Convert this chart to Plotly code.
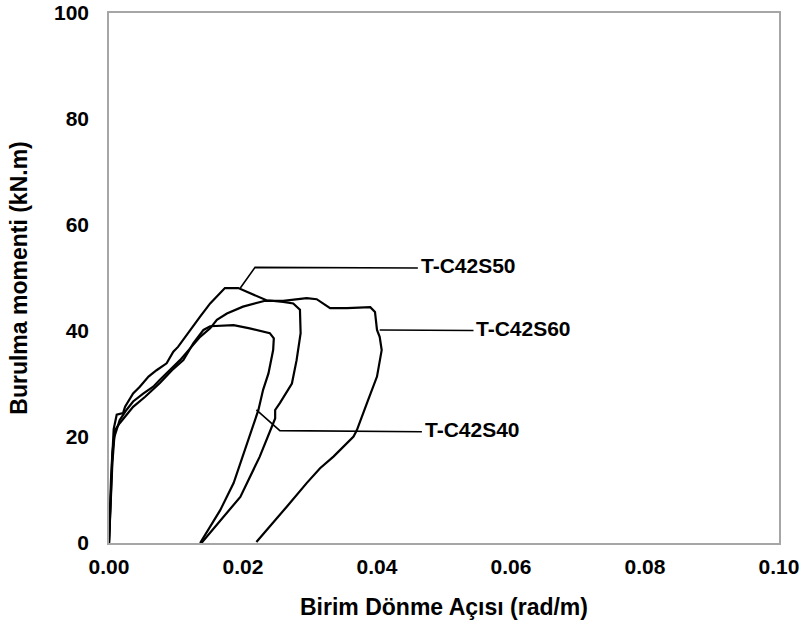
import plotly.graph_objects as go

# T-C42S40
s40_x = [0, 0.0001, 0.0003, 0.0005, 0.0009, 0.0016, 0.0036, 0.0054, 0.0076, 0.0094, 0.0111, 0.0126,
         0.0141, 0.0151, 0.0186, 0.0210, 0.0240, 0.0246, 0.0245, 0.0238, 0.0230, 0.0223, 0.0213,
         0.0206, 0.0200, 0.0186, 0.0166, 0.0136]
s40_y = [0, 6, 12, 17, 21.3, 22.6, 25.7, 27.6, 30.2, 32.6, 34.5, 37.7,
         40.2, 40.9, 41.1, 40.5, 39.6, 38.6, 36.4, 32.0, 28.9, 25.1, 21.3,
         18.8, 16.3, 11.3, 6.2, 0]

# T-C42S50
s50_x = [0, 0.0002, 0.0004, 0.0005, 0.0007, 0.00115, 0.0021, 0.0024, 0.0036, 0.0046, 0.0059, 0.0071,
         0.0086, 0.0096, 0.0103, 0.0121, 0.0136, 0.0151, 0.0173, 0.0193, 0.0206, 0.0220, 0.0235,
         0.0260, 0.0275, 0.0285, 0.0286, 0.0280, 0.0273, 0.0255, 0.0248, 0.0248, 0.0243, 0.0225,
         0.0196, 0.0138]
s50_y = [0, 8, 14, 16.5, 21.5, 24.2, 24.5, 25.7, 28.2, 29.5, 31.4, 32.6,
         33.9, 36.1, 37.0, 40.2, 42.7, 45.2, 48.1, 48.1, 47.4, 46.5, 45.8,
         45.5, 45.2, 44.0, 39.6, 34.5, 30.1, 26.4, 25.1, 23.5, 21.9, 16.3,
         8.7, 0]

# T-C42S60
s60_x = [0, 0.0003, 0.0005, 0.0008, 0.0016, 0.0026, 0.0036, 0.0051, 0.0066, 0.0076, 0.0091, 0.0106,
         0.0123, 0.0136, 0.0151, 0.0161, 0.0176, 0.0200, 0.0233, 0.0260, 0.0295, 0.0310, 0.0330,
         0.0355, 0.0390, 0.0397, 0.0400, 0.0404, 0.0407, 0.0400, 0.0385, 0.0370, 0.0365, 0.0335,
         0.0315, 0.0295, 0.0265, 0.0220]
s60_y = [0, 9, 15, 20, 23.2, 25.1, 26.7, 28.2, 29.5, 30.8, 32.6, 34.5,
         37.0, 38.9, 40.5, 42.1, 43.3, 44.6, 45.7, 45.7, 46.2, 46.0, 44.3,
         44.3, 44.5, 43.6, 40.2, 38.9, 36.4, 31.4, 26.4, 21.3, 20.1, 16.3,
         14.1, 11.3, 6.8, 0.2]

# Leader lines and labels
labels = ["T-C42S50", "T-C42S60", "T-C42S40"]
leader_x = [[0.0196, 0.0218, 0.0461], [0.0404, 0.0544], [0.0220, 0.0255, 0.0467]]
leader_y = [[48.1, 52.0, 51.9], [40.2, 40.1], [25.1, 21.2, 21.0]]

x_ticks = [0, 0.02, 0.04, 0.06, 0.08, 0.10]
y_ticks = [0, 20, 40, 60, 80, 100]

fig = go.Figure()
for xs, ys, name in [(s40_x, s40_y, "T-C42S40"), (s50_x, s50_y, "T-C42S50"), (s60_x, s60_y, "T-C42S60")]:
    fig.add_trace(go.Scatter(x=xs, y=ys, mode="lines", name=name,
                             line=dict(color="black", width=2.2), showlegend=False))

for lx, ly, lab in zip(leader_x, leader_y, labels):
    fig.add_trace(go.Scatter(x=lx, y=ly, mode="lines", line=dict(color="black", width=1.6),
                             showlegend=False, hoverinfo="skip"))
    fig.add_annotation(x=lx[-1], y=ly[-1], text="<b>%s</b>" % lab, showarrow=False,
                       xanchor="left", yanchor="middle", xshift=1, yshift=2,
                       font=dict(family="Liberation Sans, Arial", size=21, color="black"))

tick_font = dict(family="Liberation Sans, Arial", size=21, color="black")
title_font = dict(family="Liberation Sans, Arial", size=23, color="black")
fig.update_layout(
    width=808, height=632,
    margin=dict(l=109, r=29, t=13, b=89, autoexpand=False),
    plot_bgcolor="white", paper_bgcolor="white",
    font=tick_font,
    xaxis=dict(range=[0, 0.10], tickvals=x_ticks, ticktext=["<b>%.2f</b>" % v for v in x_ticks],
               showgrid=False, zeroline=False, showline=True, mirror=True, automargin=False,
               linecolor="#a6a6a6", linewidth=1.5, ticks="", ticklabelstandoff=4,
               ticklabeloverflow="allow", tickfont=tick_font,
               title=dict(text="<b>Birim Dönme Açısı (rad/m)</b>", font=title_font, standoff=22)),
    yaxis=dict(range=[0, 100], tickvals=y_ticks, ticktext=["<b>%d</b>" % v for v in y_ticks],
               showgrid=False, zeroline=False, showline=True, mirror=True, automargin=False,
               linecolor="#a6a6a6", linewidth=1.5, ticks="", ticklabelstandoff=14,
               ticklabeloverflow="allow", tickfont=tick_font,
               title=dict(text="<b>Burulma momenti (kN.m)</b>", font=title_font, standoff=20)),
)
fig.write_html("out.html", config={"displayModeBar": False},
               post_script="document.body.style.margin='0';")
